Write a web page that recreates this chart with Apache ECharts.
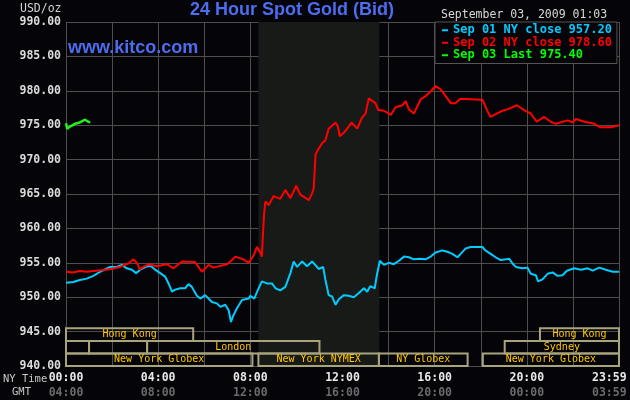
<!DOCTYPE html>
<html>
<head>
<meta charset="utf-8">
<script src="https://cdn.jsdelivr.net/npm/echarts@6/dist/echarts.min.js"></script>
<style>
  html, body { margin: 0; padding: 0; background: #050408; }
  #main { width: 630px; height: 400px; }
</style>
</head>
<body>
<div id="main"></div>
<script>
// [hour since 00:00 NY, price]
const sep01Close = [
    [0, 952.1], [0.32, 952.2], [0.6, 952.5], [0.9, 952.7], [1.19, 953.1], [1.48, 953.7],
    [1.91, 954.4], [2.2, 954.4], [2.42, 954.7], [2.64, 954.2], [2.86, 954.0], [3.04, 953.5],
    [3.22, 954.0], [3.51, 954.5], [3.7, 954.5], [3.87, 954.0], [4.09, 953.5], [4.3, 953.0],
    [4.45, 952.0], [4.6, 950.8], [4.74, 951.1], [4.96, 951.3], [5.17, 951.3], [5.32, 951.9],
    [5.46, 951.5], [5.68, 950.2], [5.83, 949.8], [6.04, 950.3], [6.33, 949.3], [6.55, 949.1],
    [6.7, 948.6], [6.91, 948.9], [7.06, 948.1], [7.16, 946.4], [7.27, 947.4], [7.42, 948.4],
    [7.64, 949.6], [7.93, 949.8], [8.0, 950.2], [8.17, 949.8], [8.32, 951.0], [8.5, 952.3],
    [8.72, 952.0], [8.94, 952.0], [9.09, 951.3], [9.3, 951.0], [9.52, 951.5], [9.74, 953.5],
    [9.88, 955.2], [10.03, 954.4], [10.25, 955.2], [10.46, 954.5], [10.68, 955.2], [10.97, 954.1],
    [11.16, 954.4], [11.26, 952.5], [11.4, 950.3], [11.55, 950.1], [11.7, 948.9], [11.84, 949.7],
    [12.06, 950.3], [12.27, 950.2], [12.49, 950.0], [12.71, 950.6], [12.93, 951.3], [13.07, 950.8],
    [13.2, 951.6], [13.4, 951.3], [13.48, 953.0], [13.62, 955.3], [13.8, 954.7], [14.01, 955.0],
    [14.23, 954.8], [14.45, 955.3], [14.67, 955.9], [14.88, 955.8], [15.1, 955.5], [15.39, 955.6],
    [15.6, 955.5], [15.83, 955.9], [16.04, 956.5], [16.33, 956.8], [16.55, 956.6], [16.77, 956.3],
    [16.99, 955.8], [17.13, 956.3], [17.35, 957.1], [17.57, 957.3], [18.07, 957.3], [18.2, 956.8],
    [18.43, 956.3], [18.65, 955.8], [18.87, 955.4], [19.09, 955.5], [19.23, 955.6], [19.38, 954.9],
    [19.52, 954.4], [19.81, 954.2], [20.03, 954.3], [20.17, 953.4], [20.39, 953.2], [20.49, 952.3],
    [20.68, 952.6], [20.9, 953.4], [21.12, 953.6], [21.33, 953.1], [21.55, 953.2], [21.74, 953.85],
    [22.06, 954.2], [22.35, 954.0], [22.64, 954.2], [22.86, 953.85], [23.14, 954.3], [23.43, 954.0],
    [23.73, 953.7], [24, 953.7]
];
const sep02Close = [
    [0, 953.7], [0.3, 953.6], [0.6, 953.8], [0.9, 953.7], [1.2, 953.8], [1.5, 953.9],
    [1.9, 954.05], [2.35, 954.4], [2.7, 954.9], [2.93, 955.5], [3.1, 954.9], [3.2, 954.05],
    [3.36, 954.4], [3.6, 954.8], [3.94, 954.5], [4.38, 954.8], [4.67, 954.2], [5.03, 955.2],
    [5.6, 955.1], [5.9, 953.7], [6.19, 954.7], [6.4, 954.3], [6.99, 954.8], [7.2, 955.4],
    [7.35, 955.9], [7.7, 955.5], [7.93, 955.0], [8.0, 955.2], [8.15, 956.1], [8.29, 957.3],
    [8.43, 956.5], [8.5, 955.9], [8.55, 959.3], [8.6, 962.2], [8.65, 963.9], [8.8, 963.4],
    [9.01, 964.7], [9.3, 964.3], [9.52, 965.6], [9.74, 964.4], [9.99, 966.2], [10.17, 964.9],
    [10.54, 964.1], [10.68, 965.1], [10.75, 965.8], [10.83, 970.7], [10.9, 971.2], [11.12, 972.4],
    [11.26, 972.8], [11.4, 974.5], [11.7, 975.4], [11.8, 974.8], [11.88, 973.4], [12.06, 973.9],
    [12.27, 974.8], [12.39, 975.4], [12.64, 974.5], [12.83, 976.0], [13.0, 976.7], [13.14, 978.9],
    [13.2, 979.1], [13.43, 978.2], [13.55, 977.2], [13.8, 977.1], [14.1, 976.5], [14.3, 977.6],
    [14.6, 977.9], [14.74, 978.5], [14.88, 977.3], [15.1, 976.7], [15.4, 978.8], [15.6, 979.2],
    [15.83, 979.9], [16.04, 980.7], [16.26, 980.2], [16.7, 978.2], [16.9, 978.2], [17.1, 978.8],
    [17.3, 978.8], [18.07, 978.7], [18.3, 977.0], [18.43, 976.2], [18.65, 976.6], [18.94, 977.1],
    [19.16, 977.3], [19.57, 977.9], [19.88, 977.2], [20.17, 976.7], [20.43, 975.5], [20.75, 976.2],
    [21.04, 975.5], [21.26, 975.2], [21.77, 975.7], [21.99, 975.4], [22.13, 975.9], [22.5, 975.5],
    [22.93, 975.2], [23.2, 974.7], [23.65, 974.7], [24, 975.0]
];
const sep03Last = [
    [0, 975.3], [0.05, 974.5], [0.17, 974.8], [0.39, 975.2], [0.6, 975.4],
    [0.83, 975.8], [0.97, 975.5], [1.05, 975.4]
];

const seriesNames = ['Sep 01 NY close', 'Sep 02 NY close', 'Sep 03 Last'];
const legendValues = ['957.20', '978.60', '975.40'];
const seriesColors = ['#00ccff', '#ff0000', '#00ff00'];

const nyTimeLabels = ['00:00', '04:00', '08:00', '12:00', '16:00', '20:00', '23:59'];
const gmtLabels = ['04:00', '08:00', '12:00', '16:00', '20:00', '00:00', '03:59'];

// trading sessions: start hour, end hour, row (0 = top), name
const sessionStart = [0, 20.57, 0, 1, 3.52, 19.04, 0, 8.35, 13.58, 18.09];
const sessionEnd = [5.52, 24, 1, 3.52, 11.0, 24, 8.09, 13.58, 17.43, 24];
const sessionRow = [0, 0, 1, 1, 1, 1, 2, 2, 2, 2];
const sessionName = ['Hong Kong', 'Hong Kong', '', '', 'London', 'Sydney',
    'New York Globex', 'New York NYMEX', 'NY Globex', 'New York Globex'];

const nymexHours = [8.35, 13.6];

const mono = 'DejaVu Sans Mono';
const rowEdges = [945.5, 943.65, 941.8, 940];

const chart = echarts.init(document.getElementById('main'));

const sessionData = sessionName.map((n, i) => [sessionStart[i], sessionEnd[i], sessionRow[i], n]);

const option = {
    backgroundColor: '#050408',
    animation: false,
    title: [{
        text: '24 Hour Spot Gold (Bid)',
        left: 190,
        top: 1,
        padding: 0,
        textStyle: { color: '#4d6df0', fontFamily: 'Liberation Sans', fontWeight: 'bold', fontSize: 18 }
    }, {
        text: 'www.kitco.com',
        left: 68,
        top: 39,
        padding: 0,
        textStyle: { color: '#4d6df0', fontFamily: 'Liberation Sans', fontWeight: 'bold', fontSize: 18 }
    }],
    legend: {
        orient: 'vertical',
        left: 435,
        top: 22,
        padding: [2, 5, 2, 7],
        itemGap: 0,
        itemWidth: 6,
        itemHeight: 2,
        icon: 'rect',
        selectedMode: false,
        backgroundColor: '#050408',
        borderColor: '#555',
        borderWidth: 1,
        data: seriesNames.map((n, i) => ({ name: n, textStyle: { color: seriesColors[i] } })),
        formatter: name => name + ' ' + legendValues[seriesNames.indexOf(name)],
        textStyle: { fontFamily: mono, fontSize: 12, fontWeight: 'bold', lineHeight: 12.5 }
    },
    graphic: [
        { type: 'text', left: 20, top: 3, style: { text: 'USD/oz', fill: '#d0d0d0', font: '11.5px "DejaVu Sans Mono"' } },
        { type: 'text', left: 441, top: 9, style: { text: 'September 03, 2009 01:03', fill: '#d8d8d8', font: '11.5px "DejaVu Sans Mono"' } },
        { type: 'text', left: 3, top: 374, style: { text: 'NY Time', fill: '#c8c8c8', font: '10.5px "DejaVu Sans Mono"' } },
        { type: 'text', left: 12, top: 387, style: { text: 'GMT', fill: '#c8c8c8', font: '10.5px "DejaVu Sans Mono"' } }
    ],
    grid: { left: 66, right: 11, top: 22, bottom: 34, outerBoundsMode: 'none', containLabel: false },
    xAxis: {
        type: 'value',
        min: 0,
        max: 24,
        interval: 2,
        axisLine: { show: false },
        axisTick: { show: false },
        splitLine: { show: true, lineStyle: { color: '#4e4e4e', width: 1 } },
        axisLabel: {
            margin: 5,
            showMaxLabel: true,
            formatter: v => {
                if (v % 4 !== 0) return '';
                const i = v / 4;
                if (i === nyTimeLabels.length - 1) {
                    return '{c|' + nyTimeLabels[i] + '}\n{d|' + gmtLabels[i] + '}';
                }
                return '{a|' + nyTimeLabels[i] + '}\n{b|' + gmtLabels[i] + '}';
            },
            rich: {
                a: { color: '#e8e8e8', fontFamily: mono, fontWeight: 'bold', fontSize: 11.5, lineHeight: 15 },
                b: { color: '#6a6a6a', fontFamily: mono, fontWeight: 'bold', fontSize: 11.5, lineHeight: 15 },
                c: { color: '#e8e8e8', fontFamily: mono, fontWeight: 'bold', fontSize: 11.5, lineHeight: 15, width: 54, align: 'left' },
                d: { color: '#6a6a6a', fontFamily: mono, fontWeight: 'bold', fontSize: 11.5, lineHeight: 15, width: 54, align: 'left' }
            }
        }
    },
    yAxis: {
        type: 'value',
        min: 940,
        max: 990,
        interval: 5,
        axisLine: { show: false },
        axisTick: { show: false },
        splitLine: { show: true, lineStyle: { color: '#4e4e4e', width: 1 } },
        axisLabel: {
            margin: 5,
            color: '#dcdcdc',
            fontFamily: mono,
            fontWeight: 'bold',
            fontSize: 11.5,
            formatter: v => v.toFixed(2)
        }
    },
    series: [
        {
            name: 'nymex',
            type: 'line',
            data: [],
            z: -1,
            silent: true,
            markArea: {
                silent: true,
                itemStyle: { color: '#181a17' },
                data: [[{ xAxis: nymexHours[0] }, { xAxis: nymexHours[1] }]]
            }
        },
        {
            name: seriesNames[0],
            type: 'line',
            data: sep01Close,
            showSymbol: false,
            lineStyle: { color: seriesColors[0], width: 2 },
            itemStyle: { color: seriesColors[0] }
        },
        {
            name: seriesNames[1],
            type: 'line',
            data: sep02Close,
            showSymbol: false,
            lineStyle: { color: seriesColors[1], width: 2 },
            itemStyle: { color: seriesColors[1] }
        },
        {
            name: seriesNames[2],
            type: 'line',
            data: sep03Last,
            showSymbol: false,
            lineStyle: { color: '#22ee22', width: 2.5 },
            itemStyle: { color: seriesColors[2] }
        },
        {
            name: 'sessions',
            type: 'custom',
            silent: true,
            data: sessionData,
            renderItem: (params, api) => {
                const row = api.value(2);
                const p1 = api.coord([api.value(0), rowEdges[row]]);
                const p2 = api.coord([api.value(1), rowEdges[row + 1]]);
                return {
                    type: 'rect',
                    shape: { x: p1[0], y: p1[1], width: p2[0] - p1[0], height: p2[1] - p1[1] },
                    style: { fill: 'transparent', stroke: '#a8a47c', lineWidth: 2 },
                    textContent: {
                        style: {
                            text: sessionName[params.dataIndex],
                            fill: '#ffc800',
                            font: '10px "DejaVu Sans Mono"'
                        }
                    },
                    textConfig: { position: 'inside' }
                };
            }
        }
    ]
};

chart.setOption(option);
</script>
</body>
</html>
